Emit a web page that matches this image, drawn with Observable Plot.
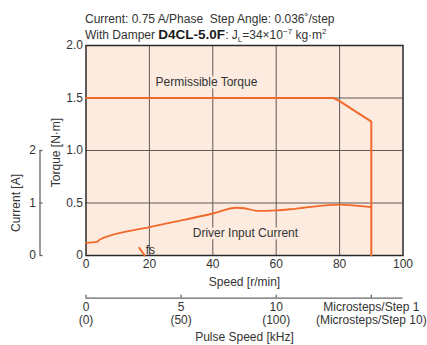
<!DOCTYPE html>
<html>
<head>
<meta charset="utf-8">
<script src="https://cdn.jsdelivr.net/npm/d3@7"></script>
<script src="https://cdn.jsdelivr.net/npm/@observablehq/plot@0.6"></script>
<style>
  html, body { margin: 0; padding: 0; background: #fff; }
  #wrap { position: relative; width: 427px; height: 345px; overflow: hidden; }
  #title { position: absolute; left: 85px; top: 12px; font-family: "Liberation Sans", Arial, sans-serif; font-size: 12px; line-height: 15px; color: #333; white-space: nowrap; }
  #title b { font-family: "Liberation Sans", Arial, sans-serif; font-weight: bold; font-size: 13.5px; color: #1a1a1a; }
  #title sub, #title sup { font-size: 8px; line-height: 0; }
  #chart { position: absolute; left: 0; top: 0; }
</style>
</head>
<body>
<div id="wrap">
  <div id="chart"></div>
  <div id="title">
    <div>Current: 0.75 A/Phase&nbsp; Step Angle: 0.036˚/step</div>
    <div>With Damper <b>D4CL-5.0F</b>: J<sub>L</sub>=34×10<sup>−7</sup> kg·m<sup>2</sup></div>
  </div>
</div>
<script>
// ---- data ----
const speedTicks = [0, 20, 40, 60, 80, 100];
const torqueTicks = [0, 0.5, 1.0, 1.5, 2.0];
const torqueTickLabels = ["0", "0.5", "1.0", "1.5", "2.0"];
const currentTicks = [0, 1, 2];
const currentPerTorque = 2; // 2 A on the current axis lines up with 1.0 N·m

// Permissible torque
const torqueSpeed = [0, 78, 80, 90, 90];
const torqueValues = [1.5, 1.5, 1.47, 1.275, 0];

// Driver input current [A]
const currentSpeed = [0, 3.5, 4.5, 20, 40, 47.5, 50, 54, 60, 66, 80, 90];
const currentA = [0.24, 0.26, 0.31, 0.54, 0.80, 0.91, 0.90, 0.85, 0.86, 0.89, 0.97, 0.92];

// fs marker
const fsSpeed = [16.8, 18.5];
const fsTorque = [0.073, 0];

// Pulse speed axis
const pulseKHz = [0, 5, 10, 15];
const rpmPerKHz = 6; // 0.036°/step: 1 kHz -> 6 r/min
const pulseLabel1 = ["0", "5", "10", "Microsteps/Step 1"];
const pulseLabel2 = ["(0)", "(50)", "(100)", "(Microsteps/Step 10)"];

// In-chart annotations
const annoText = ["Permissible Torque", "Driver Input Current"];
const annoSpeed = [38, 50.3];
const annoTorque = [1.65, 0.21];

// ---- styles ----
const bg = "#fdebdf";
const orange = "#f26a2b";
const gridColor = "#5e5955";
const axisGray = "#666";
const textColor = "#333";
const font = '"Liberation Sans", Arial, sans-serif';
const fs = 12;

const chart = Plot.plot({
  width: 427,
  height: 345,
  marginLeft: 85.5,
  marginRight: 24.5,
  marginTop: 45,
  marginBottom: 90,
  x: {domain: [0, 100]},
  y: {domain: [0, 2]},
  style: {fontFamily: font, fontSize: fs + "px", color: textColor, background: "transparent"},
  marks: [
    Plot.frame({fill: bg}),
    Plot.gridX(speedTicks.slice(1, -1), {stroke: gridColor, strokeOpacity: 1, strokeWidth: 1}),
    Plot.gridY(torqueTicks.slice(1, -1), {stroke: gridColor, strokeOpacity: 1, strokeWidth: 1}),
    Plot.frame({stroke: "#2a2a2a", strokeWidth: 1.5}),

    // annotations with halo
    Plot.text(annoText, {x: annoSpeed, y: annoTorque, text: d => d, fill: textColor, stroke: bg, strokeWidth: 5, fontSize: fs, lineAnchor: "middle"}),

    // curves
    Plot.line(currentA, {x: currentSpeed, y: currentA.map(c => c / currentPerTorque), stroke: orange, strokeWidth: 1.8, curve: "monotone-x"}),
    Plot.line(torqueValues, {x: torqueSpeed, y: torqueValues, stroke: orange, strokeWidth: 2}),
    Plot.line(fsTorque, {x: fsSpeed, y: fsTorque, stroke: orange, strokeWidth: 2}),
    Plot.text(["fs"], {x: [fsSpeed[1]], y: [fsTorque[0]], text: d => d, textAnchor: "start", lineAnchor: "middle", dx: 1, dy: 2, fill: textColor, fontSize: fs}),

    // speed axis
    Plot.axisX(speedTicks, {tickSize: 0, tickPadding: 4, label: null, tickFormat: d => String(d), fontSize: fs}),
    Plot.text(["Speed [r/min]"], {frameAnchor: "bottom", text: d => d, lineAnchor: "middle", dy: 27, fontSize: fs}),

    // torque axis
    Plot.axisY(torqueTicks, {tickSize: 0, tickPadding: 3, label: null, tickFormat: d => torqueTickLabels[torqueTicks.indexOf(d)], fontSize: fs}),
    Plot.text(["Torque [N·m]"], {frameAnchor: "left", text: d => d, rotate: -90, textAnchor: "middle", lineAnchor: "middle", dx: -30, dy: 2, fontSize: fs}),

    // current axis
    Plot.ruleX([0], {x: 0, y1: 0, y2: currentTicks[currentTicks.length - 1] / currentPerTorque, dx: -46, stroke: axisGray, strokeWidth: 1.3}),
    Plot.ruleY(currentTicks, {y: c => c / currentPerTorque, x1: 0, x2: 0, insetRight: -3, dx: -46, stroke: axisGray, strokeWidth: 1.3}),
    Plot.text(currentTicks, {y: c => c / currentPerTorque, text: c => String(c), frameAnchor: "left", textAnchor: "end", lineAnchor: "middle", dx: -50, fontSize: fs}),
    Plot.text(["Current [A]"], {y: [currentTicks[currentTicks.length - 1] / currentPerTorque / 2], text: d => d, frameAnchor: "left", rotate: -90, textAnchor: "middle", lineAnchor: "middle", dx: -70, fontSize: fs}),

    // pulse speed axis
    Plot.ruleY([0], {dy: 42.7, stroke: axisGray, strokeWidth: 1.3}),
    Plot.ruleX(pulseKHz, {x: k => k * rpmPerKHz, y1: 0, y2: 0, insetTop: -3, dy: 42.7, stroke: axisGray, strokeWidth: 1.3}),
    Plot.text(pulseKHz, {x: k => k * rpmPerKHz, text: (d, i) => pulseLabel1[i], frameAnchor: "bottom", lineAnchor: "middle", dy: 51.7, fontSize: fs}),
    Plot.text(pulseKHz, {x: k => k * rpmPerKHz, text: (d, i) => pulseLabel2[i], frameAnchor: "bottom", lineAnchor: "middle", dy: 64.5, fontSize: fs}),
    Plot.text(["Pulse Speed [kHz]"], {frameAnchor: "bottom", text: d => d, lineAnchor: "middle", dy: 81.7, fontSize: fs})
  ]
});
document.getElementById("chart").appendChild(chart);
</script>
</body>
</html>
